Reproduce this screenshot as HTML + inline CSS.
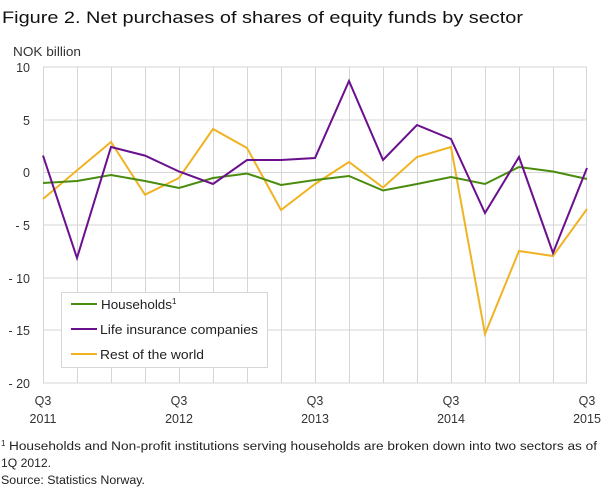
<!DOCTYPE html>
<html><head><meta charset="utf-8"><style>
body{margin:0;background:#fff;font-family:"Liberation Sans","DejaVu Sans",sans-serif;}
</style></head><body>
<svg width="609" height="489" xmlns="http://www.w3.org/2000/svg" font-family="Liberation Sans, DejaVu Sans, sans-serif">
<text x="2" y="23" font-size="17" fill="#111" textLength="521" lengthAdjust="spacingAndGlyphs">Figure 2. Net purchases of shares of equity funds by sector</text>
<text x="13" y="56" font-size="12.5" fill="#333" textLength="68" lengthAdjust="spacingAndGlyphs">NOK billion</text>
<g stroke="#d6d6d6" stroke-width="1">
<line x1="43" y1="67" x2="587" y2="67"/><line x1="43" y1="120" x2="587" y2="120"/><line x1="43" y1="172.5" x2="587" y2="172.5"/><line x1="43" y1="225" x2="587" y2="225"/><line x1="43" y1="278" x2="587" y2="278"/><line x1="43" y1="330" x2="587" y2="330"/><line x1="43" y1="383" x2="587" y2="383"/>
<line x1="43.5" y1="67" x2="43.5" y2="383"/><line x1="77.5" y1="67" x2="77.5" y2="383"/><line x1="111.5" y1="67" x2="111.5" y2="383"/><line x1="145.5" y1="67" x2="145.5" y2="383"/><line x1="179.5" y1="67" x2="179.5" y2="383"/><line x1="213.5" y1="67" x2="213.5" y2="383"/><line x1="247.5" y1="67" x2="247.5" y2="383"/><line x1="281.5" y1="67" x2="281.5" y2="383"/><line x1="315.5" y1="67" x2="315.5" y2="383"/><line x1="349.5" y1="67" x2="349.5" y2="383"/><line x1="383.5" y1="67" x2="383.5" y2="383"/><line x1="417.5" y1="67" x2="417.5" y2="383"/><line x1="451.5" y1="67" x2="451.5" y2="383"/><line x1="485.5" y1="67" x2="485.5" y2="383"/><line x1="519.5" y1="67" x2="519.5" y2="383"/><line x1="553.5" y1="67" x2="553.5" y2="383"/><line x1="586.5" y1="67" x2="586.5" y2="383"/>
</g>
<g font-size="12.5" fill="#333" text-anchor="end">
<text x="30" y="72">10</text><text x="30" y="125">5</text><text x="30" y="177">0</text><text x="30" y="230">- 5</text><text x="30" y="283">- 10</text><text x="30" y="335">- 15</text><text x="30" y="388">- 20</text>
</g>
<g font-size="12.5" fill="#333" text-anchor="middle">
<text x="43" y="405">Q3</text><text x="43" y="423">2011</text>
<text x="179" y="405">Q3</text><text x="179" y="423">2012</text>
<text x="315" y="405">Q3</text><text x="315" y="423">2013</text>
<text x="451" y="405">Q3</text><text x="451" y="423">2014</text>
<text x="587" y="405">Q3</text><text x="587" y="423">2015</text>
</g>
<g fill="none" stroke-width="2" stroke-linejoin="miter">
<polyline stroke="#f0b323" points="43,199 77,170.4 111,142 145,194.7 179,178 213,129 247,148 281,210 315,184 349,162 383,187.5 417,157 451,147 485,334 519,251 553,256 587,209"/>
<polyline stroke="#4a8c0e" points="43,183 77,181 111,175 145,181 179,188 213,178 247,173.5 281,185 315,180 349,176 383,190.5 417,184 451,177 485,184 519,167 553,171.5 587,179"/>
<polyline stroke="#6a0f8e" points="43,155.6 77,258 111,147 145,155.6 179,171.5 213,184 247,160 281,160 315,158 349,81 383,160 417,125 451,139 485,213 519,157 553,253 587,168"/>
</g>
<rect x="61.5" y="292.5" width="206" height="75" fill="#fff" stroke="#d6d6d6"/>
<g stroke-width="2"><line x1="71" y1="304" x2="97" y2="304" stroke="#4a8c0e"/><line x1="71" y1="329" x2="97" y2="329" stroke="#6a0f8e"/><line x1="71" y1="354" x2="97" y2="354" stroke="#f0b323"/></g>
<g font-size="12.5" fill="#222">
<text x="101" y="309"><tspan textLength="71" lengthAdjust="spacingAndGlyphs">Households</tspan><tspan font-size="8" dy="-5">1</tspan></text>
<text x="100" y="334" textLength="158" lengthAdjust="spacingAndGlyphs">Life insurance companies</text>
<text x="100" y="359" textLength="104" lengthAdjust="spacingAndGlyphs">Rest of the world</text>
</g>
<g font-size="11.5" fill="#222">
<text x="1" y="446" font-size="8">1</text>
<text x="9" y="450" textLength="588" lengthAdjust="spacingAndGlyphs">Households and Non-profit institutions serving households are broken down into two sectors as of</text>
<text x="1" y="467" textLength="50" lengthAdjust="spacingAndGlyphs">1Q 2012.</text>
<text x="1" y="484" textLength="144" lengthAdjust="spacingAndGlyphs">Source: Statistics Norway.</text>
</g>
</svg>
</body></html>
